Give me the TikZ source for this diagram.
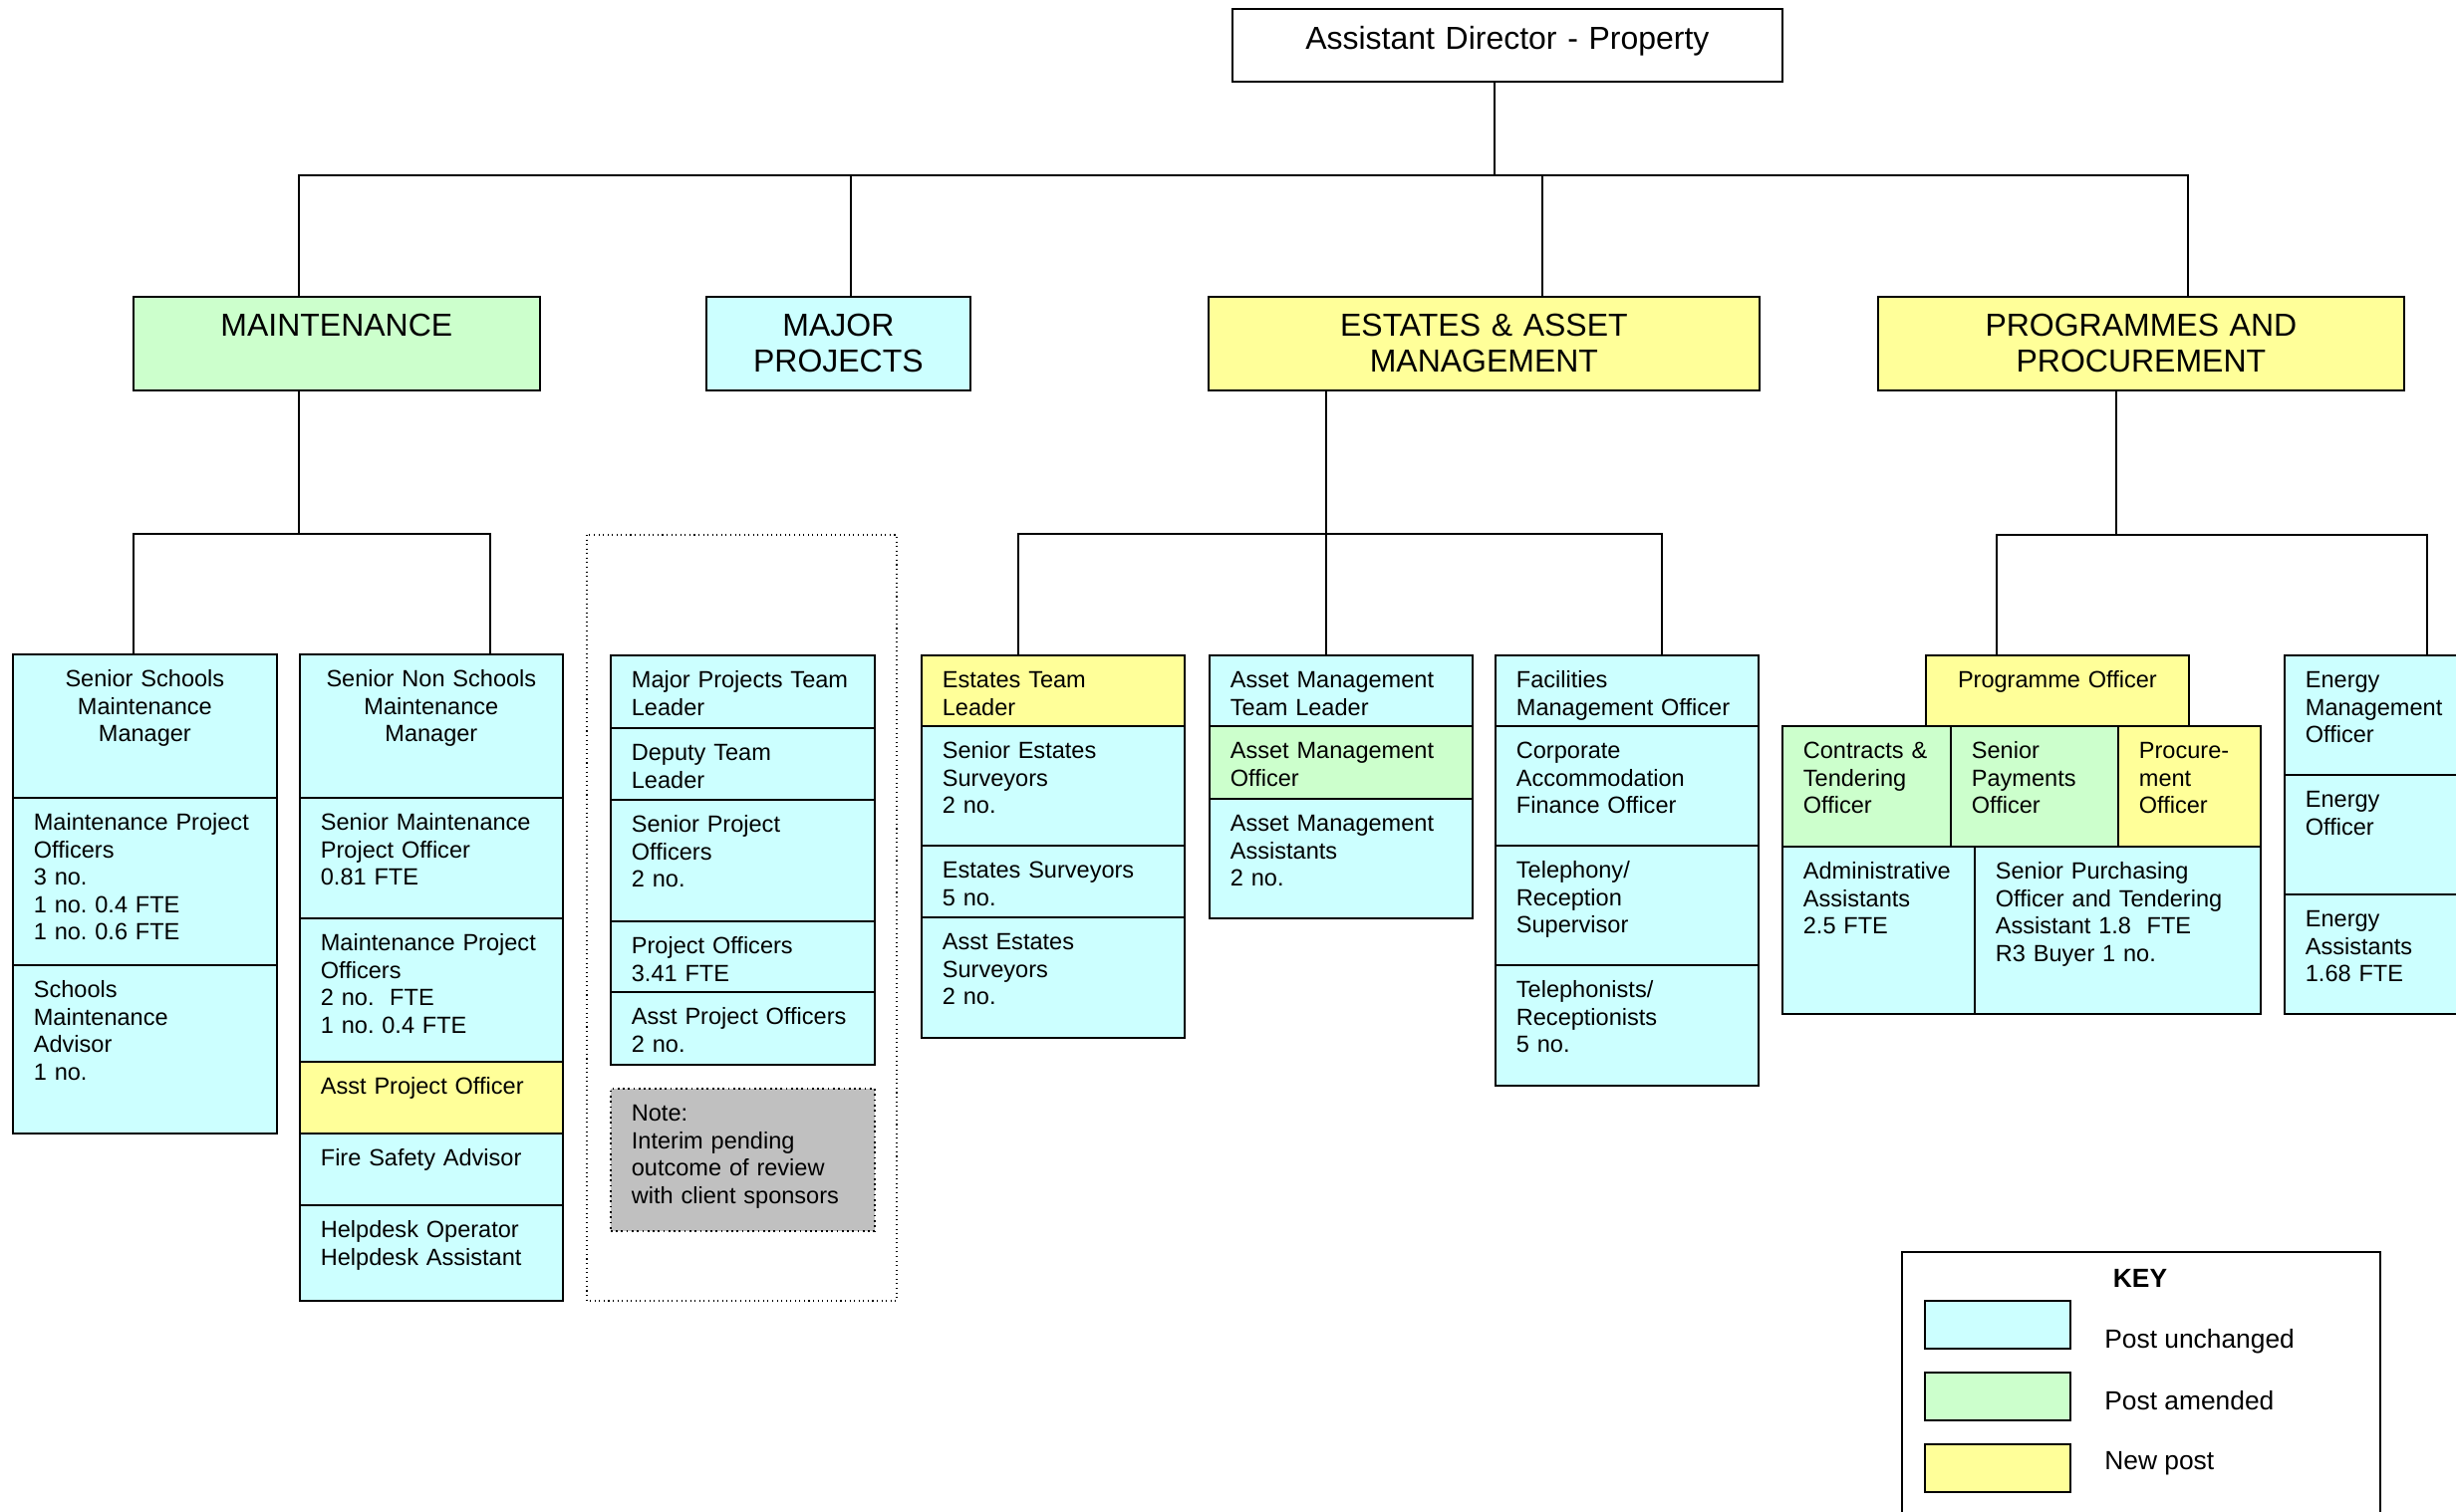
\documentclass[tikz,border=0pt]{standalone}
\usepackage{fontspec}
\setmainfont{Liberation Sans}
\frenchspacing

\definecolor{postcyan}{HTML}{CCFFFF}
\definecolor{postgreen}{HTML}{CCFFCC}
\definecolor{postyellow}{HTML}{FFFF99}
\definecolor{notegrey}{HTML}{C0C0C0}

\newcommand*{\pix}{0.2mm}
\newcommand*{\postfont}{\fontsize{13.4}{15.6}\selectfont}
\newcommand*{\headfont}{\fontsize{18.2}{20.5}\selectfont}
\newcommand*{\keyfont}{\fontsize{15}{18}\selectfont}

% name, x, y, width, height, options, text (all in pixels of the chart)
\newcommand*{\postcell}[7]{%
  \pgfmathsetlengthmacro{\postwd}{(#4-42)*\pix}%
  \pgfmathsetlengthmacro{\postdp}{(#5-33)*\pix}%
  \node[post,#6,text width=\postwd,text depth=\postdp] (#1) at (#2,#3) {#7};%
}
\newcommand*{\headcell}[7]{%
  \pgfmathsetlengthmacro{\headwd}{#4*\pix}%
  \pgfmathsetlengthmacro{\headdp}{(#5-40)*\pix}%
  \node[head,#6,text width=\headwd,text depth=\headdp] (#1) at (#2,#3) {#7};%
}

\begin{document}
\begin{tikzpicture}[x=\pix,y=-\pix,
    post/.style={draw,line width=1pt,anchor=north west,inner xsep=4.2mm,inner ysep=0pt,
      align=left,text height=6.6mm,font=\postfont},
    head/.style={draw,line width=1pt,anchor=north west,inner sep=0pt,
      align=center,text height=8mm,font=\headfont},
    unchanged/.style={fill=postcyan},
    amended/.style={fill=postgreen},
    newpost/.style={fill=postyellow},
    notebox/.style={fill=notegrey,dotted},
    link/.style={line width=0.7pt},
    swatch/.style={draw,line width=1pt,anchor=north west,inner sep=0pt,
      minimum width=146*\pix,minimum height=48*\pix},
    keylab/.style={anchor=base west,inner sep=0pt,font=\keyfont}]

	\useasboundingbox (0,0) rectangle (2465,1517);
	\clip (0,0) rectangle (2465,1517);

	% top
	\node[draw,line width=1pt,anchor=north west,inner sep=0pt,align=center,font=\headfont,
	  text width=110.4mm,text height=8.2mm,text depth=6.4mm] (adp) at (1236,8) {Assistant Director - Property};

	% sections
	\headcell{maint}{133}{297}{408}{94}{amended}{MAINTENANCE}
	\headcell{major}{708}{297}{265}{94}{unchanged}{MAJOR\\PROJECTS}
	\headcell{estates}{1212}{297}{553}{94}{newpost}{ESTATES \& ASSET\\MANAGEMENT}
	\headcell{progs}{1884}{297}{528}{94}{newpost}{PROGRAMMES AND\\PROCUREMENT}

	% maintenance
	\postcell{ssm}{12}{656}{265}{144}{unchanged,align=center}{Senior Schools\\Maintenance\\Manager}
	\postcell{smpo}{12}{800}{265}{168}{unchanged}{Maintenance Project\\Officers\\3 no.\\1 no. 0.4 FTE\\1 no. 0.6 FTE}
	\postcell{sma}{12}{968}{265}{169}{unchanged}{Schools\\Maintenance\\Advisor\\1 no.}

	\postcell{nsm}{300}{656}{264}{144}{unchanged,align=center}{Senior Non Schools\\Maintenance\\Manager}
	\postcell{nsmpo}{300}{800}{264}{121}{unchanged}{Senior Maintenance\\Project Officer\\0.81 FTE}
	\postcell{nmpo}{300}{921}{264}{144}{unchanged}{Maintenance Project\\Officers\\2 no.~~FTE\\1 no. 0.4 FTE}
	\postcell{napo}{300}{1065}{264}{72}{newpost}{Asst Project Officer}
	\postcell{nfsa}{300}{1137}{264}{72}{unchanged}{Fire Safety Advisor}
	\postcell{nhelp}{300}{1209}{264}{96}{unchanged}{Helpdesk Operator\\Helpdesk Assistant}

	% major projects
	\draw[dotted,line width=0.6pt] (589,537) rectangle (900,1306);
	\postcell{mjtl}{612}{657}{265}{73}{unchanged}{Major Projects Team\\Leader}
	\postcell{mjdep}{612}{730}{265}{72}{unchanged}{Deputy Team\\Leader}
	\postcell{mjspo}{612}{802}{265}{122}{unchanged}{Senior Project\\Officers\\2 no.}
	\postcell{mjpo}{612}{924}{265}{71}{unchanged}{Project Officers\\3.41 FTE}
	\postcell{mjapo}{612}{995}{265}{73}{unchanged}{Asst Project Officers\\2 no.}
	\postcell{mjnote}{612}{1092}{265}{143}{notebox}{Note:\\Interim pending\\outcome of review\\with client sponsors}

	% estates and asset management
	\postcell{etl}{924}{657}{264}{71}{newpost}{Estates Team\\Leader}
	\postcell{ses}{924}{728}{264}{120}{unchanged}{Senior Estates\\Surveyors\\2 no.}
	\postcell{es}{924}{848}{264}{72}{unchanged}{Estates Surveyors\\5 no.}
	\postcell{aes}{924}{920}{264}{121}{unchanged}{Asst Estates\\Surveyors\\2 no.}

	\postcell{amtl}{1213}{657}{264}{71}{unchanged}{Asset Management\\Team Leader}
	\postcell{amo}{1213}{728}{264}{73}{amended}{Asset Management\\Officer}
	\postcell{ama}{1213}{801}{264}{120}{unchanged}{Asset Management\\Assistants\\2 no.}

	\postcell{fmo}{1500}{657}{264}{71}{unchanged}{Facilities\\Management Officer}
	\postcell{cafo}{1500}{728}{264}{120}{unchanged}{Corporate\\Accommodation\\Finance Officer}
	\postcell{trs}{1500}{848}{264}{120}{unchanged}{Telephony/\\Reception\\Supervisor}
	\postcell{trec}{1500}{968}{264}{121}{unchanged}{Telephonists/\\Receptionists\\5 no.}

	% programmes and procurement
	\postcell{pgo}{1932}{657}{264}{71}{newpost,align=center}{Programme Officer}
	\postcell{cto}{1788}{728}{169}{121}{amended}{Contracts \&\\Tendering\\Officer}
	\postcell{spay}{1957}{728}{168}{121}{amended}{Senior\\Payments\\Officer}
	\postcell{proc}{2125}{728}{143}{121}{newpost}{Procure-\\ment\\Officer}
	\postcell{adas}{1788}{849}{193}{168}{unchanged}{Administrative\\Assistants\\2.5 FTE}
	\postcell{spur}{1981}{849}{287}{168}{unchanged}{Senior Purchasing\\Officer and Tendering\\Assistant 1.8~~FTE\\R3 Buyer 1 no.}

	\postcell{emo}{2292}{657}{200}{120}{unchanged}{Energy\\Management\\Officer}
	\postcell{eo}{2292}{777}{200}{120}{unchanged}{Energy\\Officer}
	\postcell{eas}{2292}{897}{200}{120}{unchanged}{Energy\\Assistants\\1.68 FTE}

	% lines
	\draw[link] (adp.south -| 1500,0) -- (1500,176);
	\draw[link] (maint.north -| 300,0) -- (300,176) -- (2196,176) -- (progs.north -| 2196,0);
	\draw[link] (854,176) -- (major.north -| 854,0);
	\draw[link] (1548,176) -- (estates.north -| 1548,0);

	\draw[link] (maint.south -| 300,0) -- (300,536);
	\draw[link] (ssm.north -| 134,0) -- (134,536) -- (492,536) -- (nsm.north -| 492,0);

	\draw[link] (estates.south -| 1331,0) -- (amtl.north -| 1331,0);
	\draw[link] (etl.north -| 1022,0) -- (1022,536) -- (1668,536) -- (fmo.north -| 1668,0);

	\draw[link] (progs.south -| 2124,0) -- (2124,537);
	\draw[link] (pgo.north -| 2004,0) -- (2004,537) -- (2436,537) -- (emo.north -| 2436,0);

	% key
	\node[draw,line width=1pt,anchor=north west,inner sep=0pt,
	  minimum width=480*\pix,minimum height=300*\pix] (key) at (1908,1256) {};
	\node[anchor=base,inner sep=0pt,font=\keyfont\bfseries] (keyhd) at (2148,1292) {KEY};
	\node[swatch,unchanged] (keyu) at (1931,1305) {};
	\node[swatch,amended] (keya) at (1931,1377) {};
	\node[swatch,newpost] (keyn) at (1931,1449) {};
	\node[keylab] (keyut) at (2112,1353) {Post unchanged};
	\node[keylab] (keyat) at (2112,1415) {Post amended};
	\node[keylab] (keynt) at (2112,1475) {New post};

\end{tikzpicture}
\end{document}
